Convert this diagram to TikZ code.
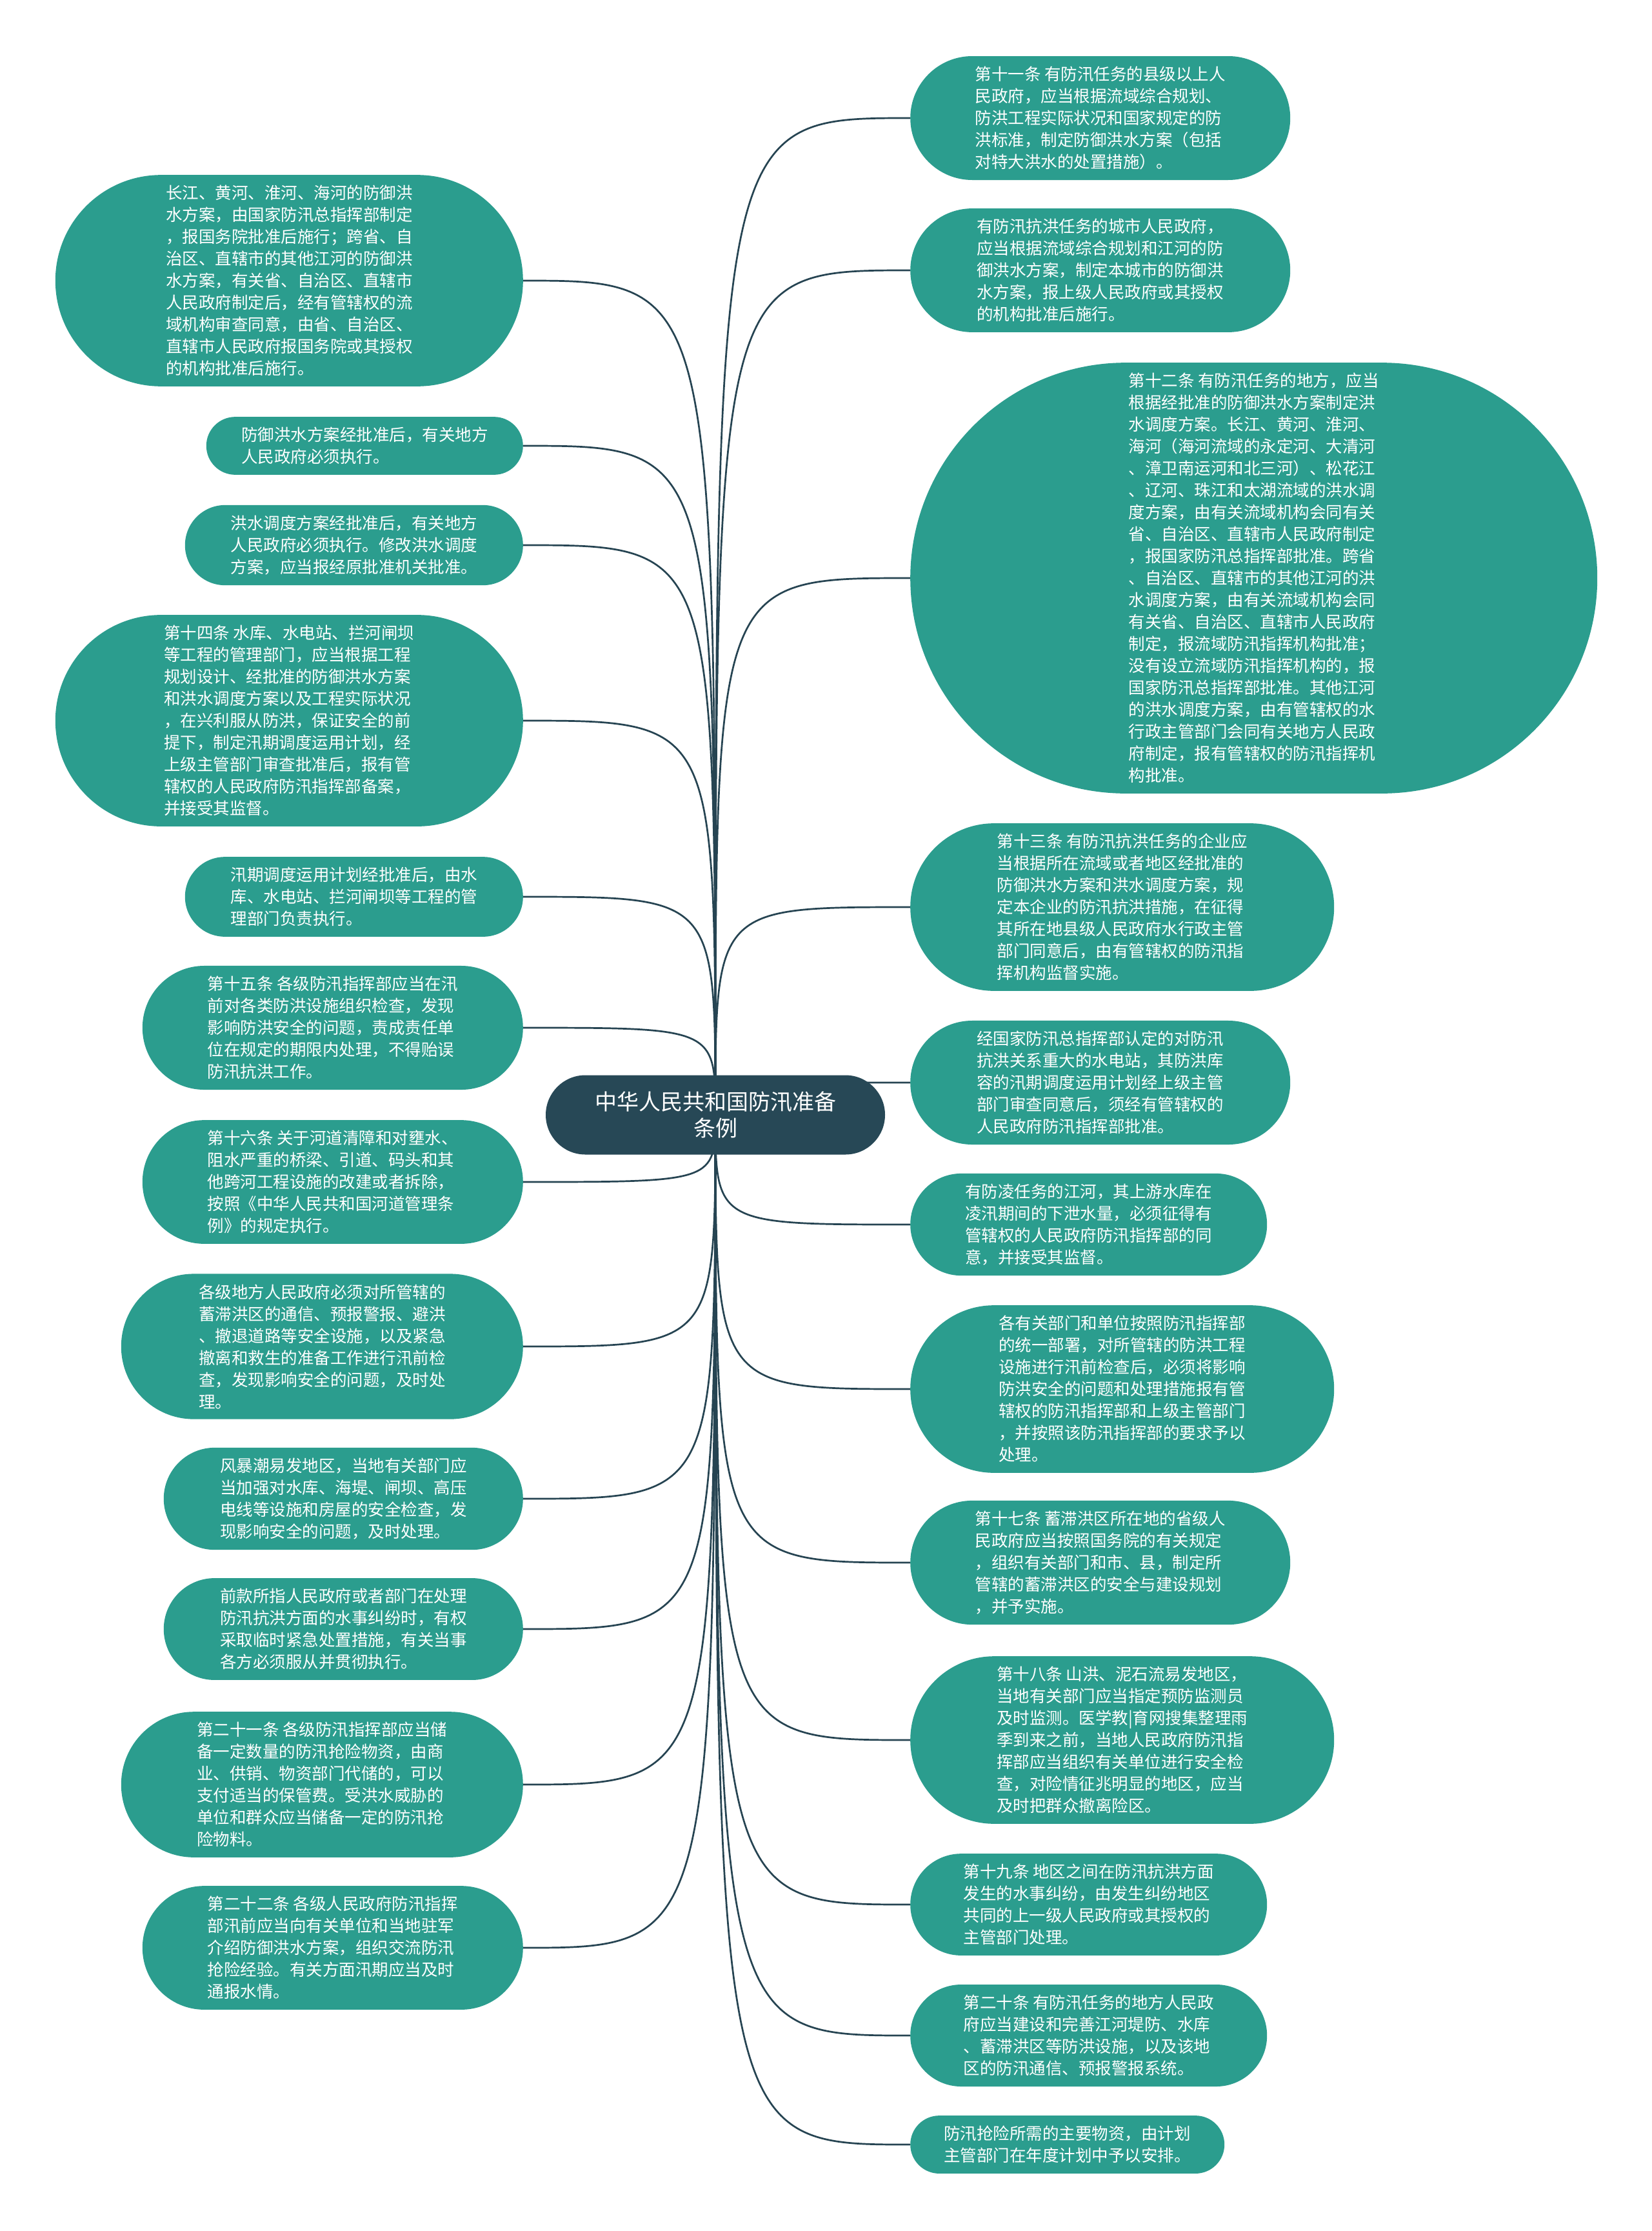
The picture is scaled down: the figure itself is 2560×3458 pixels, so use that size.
\documentclass[tikz,border=0pt]{standalone}
\usepackage{fontspec}
\setmainfont{Noto Sans CJK SC}
\usepackage{tikz}
\usetikzlibrary{shapes.misc, positioning}
\definecolor{leafteal}{RGB}{43,157,142}
\definecolor{rootslate}{RGB}{39,72,86}
\definecolor{linkdark}{RGB}{38,68,82}
\pgfdeclarelayer{links}
\pgfsetlayers{links,main}
\tikzset{
  rootnode/.style={rounded rectangle, fill=rootslate, text=white,
    align=center, font=\fontsize{34}{41}\selectfont,
    inner xsep=4pt, inner ysep=22pt, minimum height=123pt, minimum width=534pt},
  leaf/.style={rounded rectangle, fill=leafteal, text=white,
    align=left, font=\fontsize{25.5}{34}\selectfont,
    inner xsep=5pt, inner ysep=16pt},
  leftleaf/.style={leaf, anchor=east, minimum width=#1},
  rightleaf/.style={leaf, anchor=west, minimum width=#1},
  link/.style={line width=2.7pt, color=linkdark}
}

\begin{document}
\begin{tikzpicture}[x=1pt, y=-1pt]
  \useasboundingbox (0,0) rectangle (2560,3458);

  \node[rootnode] (root) at (1109,1728) {中华人民共和国防汛准备\\条例};

  % left branch
  \node[leftleaf=735pt] (lt1) at (811,435) {长江、黄河、淮河、海河的防御洪\\水方案，由国家防汛总指挥部制定\\，报国务院批准后施行；跨省、自\\治区、直辖市的其他江河的防御洪\\水方案，有关省、自治区、直辖市\\人民政府制定后，经有管辖权的流\\域机构审查同意，由省、自治区、\\直辖市人民政府报国务院或其授权\\的机构批准后施行。};
  \node[leftleaf=501pt] (lt2) at (811,691) {防御洪水方案经批准后，有关地方\\人民政府必须执行。};
  \node[leftleaf=534pt] (lt3) at (811,845) {洪水调度方案经批准后，有关地方\\人民政府必须执行。修改洪水调度\\方案，应当报经原批准机关批准。};
  \node[leftleaf=735pt] (lt4) at (811,1117) {第十四条 水库、水电站、拦河闸坝\\等工程的管理部门，应当根据工程\\规划设计、经批准的防御洪水方案\\和洪水调度方案以及工程实际状况\\，在兴利服从防洪，保证安全的前\\提下，制定汛期调度运用计划，经\\上级主管部门审查批准后，报有管\\辖权的人民政府防汛指挥部备案，\\并接受其监督。};
  \node[leftleaf=534pt] (lt5) at (811,1390) {汛期调度运用计划经批准后，由水\\库、水电站、拦河闸坝等工程的管\\理部门负责执行。};
  \node[leftleaf=600pt] (lt6) at (811,1593) {第十五条 各级防汛指挥部应当在汛\\前对各类防洪设施组织检查，发现\\影响防洪安全的问题，责成责任单\\位在规定的期限内处理，不得贻误\\防汛抗洪工作。};
  \node[leftleaf=600pt] (lt7) at (811,1832) {第十六条 关于河道清障和对壅水、\\阻水严重的桥梁、引道、码头和其\\他跨河工程设施的改建或者拆除，\\按照《中华人民共和国河道管理条\\例》的规定执行。};
  \node[leftleaf=633pt] (lt8) at (811,2087) {各级地方人民政府必须对所管辖的\\蓄滞洪区的通信、预报警报、避洪\\、撤退道路等安全设施，以及紧急\\撤离和救生的准备工作进行汛前检\\查，发现影响安全的问题，及时处\\理。};
  \node[leftleaf=567pt] (lt9) at (811,2323) {风暴潮易发地区，当地有关部门应\\当加强对水库、海堤、闸坝、高压\\电线等设施和房屋的安全检查，发\\现影响安全的问题，及时处理。};
  \node[leftleaf=567pt] (lt10) at (811,2525) {前款所指人民政府或者部门在处理\\防汛抗洪方面的水事纠纷时，有权\\采取临时紧急处置措施，有关当事\\各方必须服从并贯彻执行。};
  \node[leftleaf=633pt] (lt11) at (811,2766) {第二十一条 各级防汛指挥部应当储\\备一定数量的防汛抢险物资，由商\\业、供销、物资部门代储的，可以\\支付适当的保管费。受洪水威胁的\\单位和群众应当储备一定的防汛抢\\险物料。};
  \node[leftleaf=600pt] (lt12) at (811,3019) {第二十二条 各级人民政府防汛指挥\\部汛前应当向有关单位和当地驻军\\介绍防御洪水方案，组织交流防汛\\抢险经验。有关方面汛期应当及时\\通报水情。};

  % right branch
  \node[rightleaf=599pt] (rt1) at (1411,183) {第十一条 有防汛任务的县级以上人\\民政府，应当根据流域综合规划、\\防洪工程实际状况和国家规定的防\\洪标准，制定防御洪水方案（包括\\对特大洪水的处置措施）。};
  \node[rightleaf=599pt] (rt2) at (1411,419) {有防汛抗洪任务的城市人民政府，\\应当根据流域综合规划和江河的防\\御洪水方案，制定本城市的防御洪\\水方案，报上级人民政府或其授权\\的机构批准后施行。};
  \node[rightleaf=1075pt] (rt3) at (1411,896) {第十二条 有防汛任务的地方，应当\\根据经批准的防御洪水方案制定洪\\水调度方案。长江、黄河、淮河、\\海河（海河流域的永定河、大清河\\、漳卫南运河和北三河）、松花江\\、辽河、珠江和太湖流域的洪水调\\度方案，由有关流域机构会同有关\\省、自治区、直辖市人民政府制定\\，报国家防汛总指挥部批准。跨省\\、自治区、直辖市的其他江河的洪\\水调度方案，由有关流域机构会同\\有关省、自治区、直辖市人民政府\\制定，报流域防汛指挥机构批准；\\没有设立流域防汛指挥机构的，报\\国家防汛总指挥部批准。其他江河\\的洪水调度方案，由有管辖权的水\\行政主管部门会同有关地方人民政\\府制定，报有管辖权的防汛指挥机\\构批准。};
  \node[rightleaf=667pt] (rt4) at (1411,1406) {第十三条 有防汛抗洪任务的企业应\\当根据所在流域或者地区经批准的\\防御洪水方案和洪水调度方案，规\\定本企业的防汛抗洪措施，在征得\\其所在地县级人民政府水行政主管\\部门同意后，由有管辖权的防汛指\\挥机构监督实施。};
  \node[rightleaf=599pt] (rt5) at (1411,1678) {经国家防汛总指挥部认定的对防汛\\抗洪关系重大的水电站，其防洪库\\容的汛期调度运用计划经上级主管\\部门审查同意后，须经有管辖权的\\人民政府防汛指挥部批准。};
  \node[rightleaf=563pt] (rt6) at (1411,1898) {有防凌任务的江河，其上游水库在\\凌汛期间的下泄水量，必须征得有\\管辖权的人民政府防汛指挥部的同\\意，并接受其监督。};
  \node[rightleaf=667pt] (rt7) at (1411,2153) {各有关部门和单位按照防汛指挥部\\的统一部署，对所管辖的防洪工程\\设施进行汛前检查后，必须将影响\\防洪安全的问题和处理措施报有管\\辖权的防汛指挥部和上级主管部门\\，并按照该防汛指挥部的要求予以\\处理。};
  \node[rightleaf=599pt] (rt8) at (1411,2422) {第十七条 蓄滞洪区所在地的省级人\\民政府应当按照国务院的有关规定\\，组织有关部门和市、县，制定所\\管辖的蓄滞洪区的安全与建设规划\\，并予实施。};
  \node[rightleaf=667pt] (rt9) at (1411,2697) {第十八条 山洪、泥石流易发地区，\\当地有关部门应当指定预防监测员\\及时监测。医学教|育网搜集整理雨\\季到来之前，当地人民政府防汛指\\挥部应当组织有关单位进行安全检\\查，对险情征兆明显的地区，应当\\及时把群众撤离险区。};
  \node[rightleaf=563pt] (rt10) at (1411,2952) {第十九条 地区之间在防汛抗洪方面\\发生的水事纠纷，由发生纠纷地区\\共同的上一级人民政府或其授权的\\主管部门处理。};
  \node[rightleaf=563pt] (rt11) at (1411,3155) {第二十条 有防汛任务的地方人民政\\府应当建设和完善江河堤防、水库\\、蓄滞洪区等防洪设施，以及该地\\区的防汛通信、预报警报系统。};
  \node[rightleaf=497pt] (rt12) at (1411,3324) {防汛抢险所需的主要物资，由计划\\主管部门在年度计划中予以安排。};

  % connectors behind the nodes
  \begin{pgfonlayer}{links}
    \fill[white] (0,0) rectangle (2560,3458);
    \draw[link] (root.center) .. controls (root.center |- lt1.east) .. (lt1.east);
    \draw[link] (root.center) .. controls (root.center |- lt2.east) .. (lt2.east);
    \draw[link] (root.center) .. controls (root.center |- lt3.east) .. (lt3.east);
    \draw[link] (root.center) .. controls (root.center |- lt4.east) .. (lt4.east);
    \draw[link] (root.center) .. controls (root.center |- lt5.east) .. (lt5.east);
    \draw[link] (root.center) .. controls (root.center |- lt6.east) .. (lt6.east);
    \draw[link] (root.center) .. controls (root.center |- lt7.east) .. (lt7.east);
    \draw[link] (root.center) .. controls (root.center |- lt8.east) .. (lt8.east);
    \draw[link] (root.center) .. controls (root.center |- lt9.east) .. (lt9.east);
    \draw[link] (root.center) .. controls (root.center |- lt10.east) .. (lt10.east);
    \draw[link] (root.center) .. controls (root.center |- lt11.east) .. (lt11.east);
    \draw[link] (root.center) .. controls (root.center |- lt12.east) .. (lt12.east);
    \draw[link] (root.center) .. controls (root.center |- rt1.west) .. (rt1.west);
    \draw[link] (root.center) .. controls (root.center |- rt2.west) .. (rt2.west);
    \draw[link] (root.center) .. controls (root.center |- rt3.west) .. (rt3.west);
    \draw[link] (root.center) .. controls (root.center |- rt4.west) .. (rt4.west);
    \draw[link] (root.center) .. controls (root.center |- rt5.west) .. (rt5.west);
    \draw[link] (root.center) .. controls (root.center |- rt6.west) .. (rt6.west);
    \draw[link] (root.center) .. controls (root.center |- rt7.west) .. (rt7.west);
    \draw[link] (root.center) .. controls (root.center |- rt8.west) .. (rt8.west);
    \draw[link] (root.center) .. controls (root.center |- rt9.west) .. (rt9.west);
    \draw[link] (root.center) .. controls (root.center |- rt10.west) .. (rt10.west);
    \draw[link] (root.center) .. controls (root.center |- rt11.west) .. (rt11.west);
    \draw[link] (root.center) .. controls (root.center |- rt12.west) .. (rt12.west);
  \end{pgfonlayer}
\end{tikzpicture}
\end{document}
